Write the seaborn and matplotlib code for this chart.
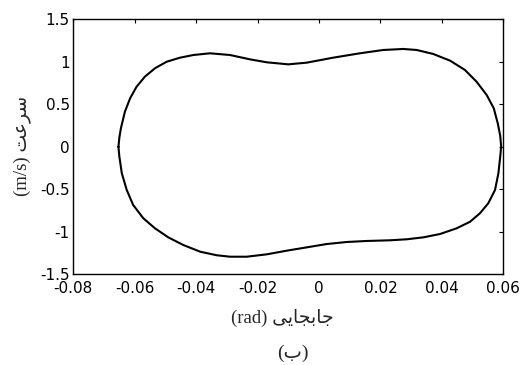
import matplotlib
matplotlib.use("Agg")
import matplotlib.pyplot as plt
import seaborn as sns
import pandas as pd

# Phase trajectory: displacement (rad) vs. velocity (m/s), one closed orbit
displacement = [
    -0.0653, -0.0650, -0.0645, -0.0632, -0.0615, -0.0594, -0.0567, -0.0534,
    -0.0496, -0.0453, -0.0409, -0.0355, -0.0290, -0.0225, -0.0170, -0.0100,
    -0.0040, 0.0047, 0.0133, 0.0209, 0.0274, 0.0318, 0.0372, 0.0427,
    0.0475, 0.0513, 0.0546, 0.0569, 0.0582, 0.0590, 0.0593, 0.0590,
    0.0584, 0.0573, 0.0551, 0.0524, 0.0492, 0.0448, 0.0394, 0.0340,
    0.0286, 0.0231, 0.0155, 0.0090, 0.0025, -0.0040, -0.0105, -0.0170,
    -0.0235, -0.0290, -0.0333, -0.0387, -0.0442, -0.0491, -0.0534, -0.0572,
    -0.0605, -0.0626, -0.0642, -0.0650, -0.0653,
]
velocity = [
    0.000, 0.110, 0.218, 0.413, 0.571, 0.707, 0.825, 0.924,
    1.001, 1.048, 1.080, 1.100, 1.080, 1.029, 0.994, 0.970,
    0.990, 1.049, 1.100, 1.139, 1.151, 1.139, 1.092, 1.013,
    0.904, 0.766, 0.609, 0.453, 0.276, 0.130, 0.000, -0.116,
    -0.312, -0.508, -0.665, -0.782, -0.881, -0.959, -1.026, -1.065,
    -1.088, -1.100, -1.108, -1.120, -1.144, -1.183, -1.222, -1.265,
    -1.293, -1.293, -1.276, -1.234, -1.155, -1.065, -0.959, -0.841,
    -0.685, -0.508, -0.312, -0.116, 0.000,
]

x_ticks = [-0.08, -0.06, -0.04, -0.02, 0, 0.02, 0.04, 0.06]
x_tick_labels = ["-0.08", "-0.06", "-0.04", "-0.02", "0", "0.02", "0.04", "0.06"]
y_ticks = [-1.5, -1, -0.5, 0, 0.5, 1, 1.5]
y_tick_labels = ["-1.5", "-1", "-0.5", "0", "0.5", "1", "1.5"]

# Persian labels, pre-shaped into presentation forms in visual order
y_label = "(m/s) \uFE96\uFECB\uFEAE\uFEB3"                       # سرعت (m/s)
x_label = "(rad) \uFEF0\uFEF3\uFE8E\uFEA0\uFE91\uFE8E\uFE9F"      # جابجایی (rad)
caption = "(\uFE8F)"                                              # (ب)

sns.set_style("white")
plt.rcParams["font.family"] = ["DejaVu Sans"]

df = pd.DataFrame({"displacement": displacement, "velocity": velocity})

fig = plt.figure(figsize=(5.23, 3.65), dpi=100)
ax = fig.add_axes([73.3 / 523, 1 - 274.3 / 365, 430 / 523, 255 / 365])

sns.lineplot(data=df, x="displacement", y="velocity", sort=False,
             estimator=None, color="black", linewidth=1.5, ax=ax,
             solid_joinstyle="round", solid_capstyle="round")

ax.set_xlim(-0.08, 0.06)
ax.set_ylim(-1.5, 1.5)
ax.set_xticks(x_ticks)
ax.set_xticklabels(x_tick_labels)
ax.set_yticks(y_ticks)
ax.set_yticklabels(y_tick_labels)
ax.tick_params(direction="in", length=3, width=0.8, colors="black",
               labelsize=11, top=True, right=True, pad=2.5)
ax.tick_params(axis="x", pad=4.5)
for s in ax.spines.values():
    s.set_visible(True)
    s.set_color("black")
    s.set_linewidth(1.0)

ax.set_xlabel("")
ax.set_ylabel("")
label_font = ["Liberation Serif", "DejaVu Sans"]
fig.text(282 / 523, 1 - 318 / 365, x_label, ha="center", va="center",
         fontsize=13.5, family=label_font)
fig.text(22 / 523, 1 - 146 / 365, y_label, ha="center", va="center",
         rotation=90, fontsize=13.5, family=label_font)
fig.text(293 / 523, 1 - 353 / 365, caption, ha="center", va="center",
         fontsize=14, family=label_font)

fig.savefig("out.png", dpi=100, facecolor="white")
